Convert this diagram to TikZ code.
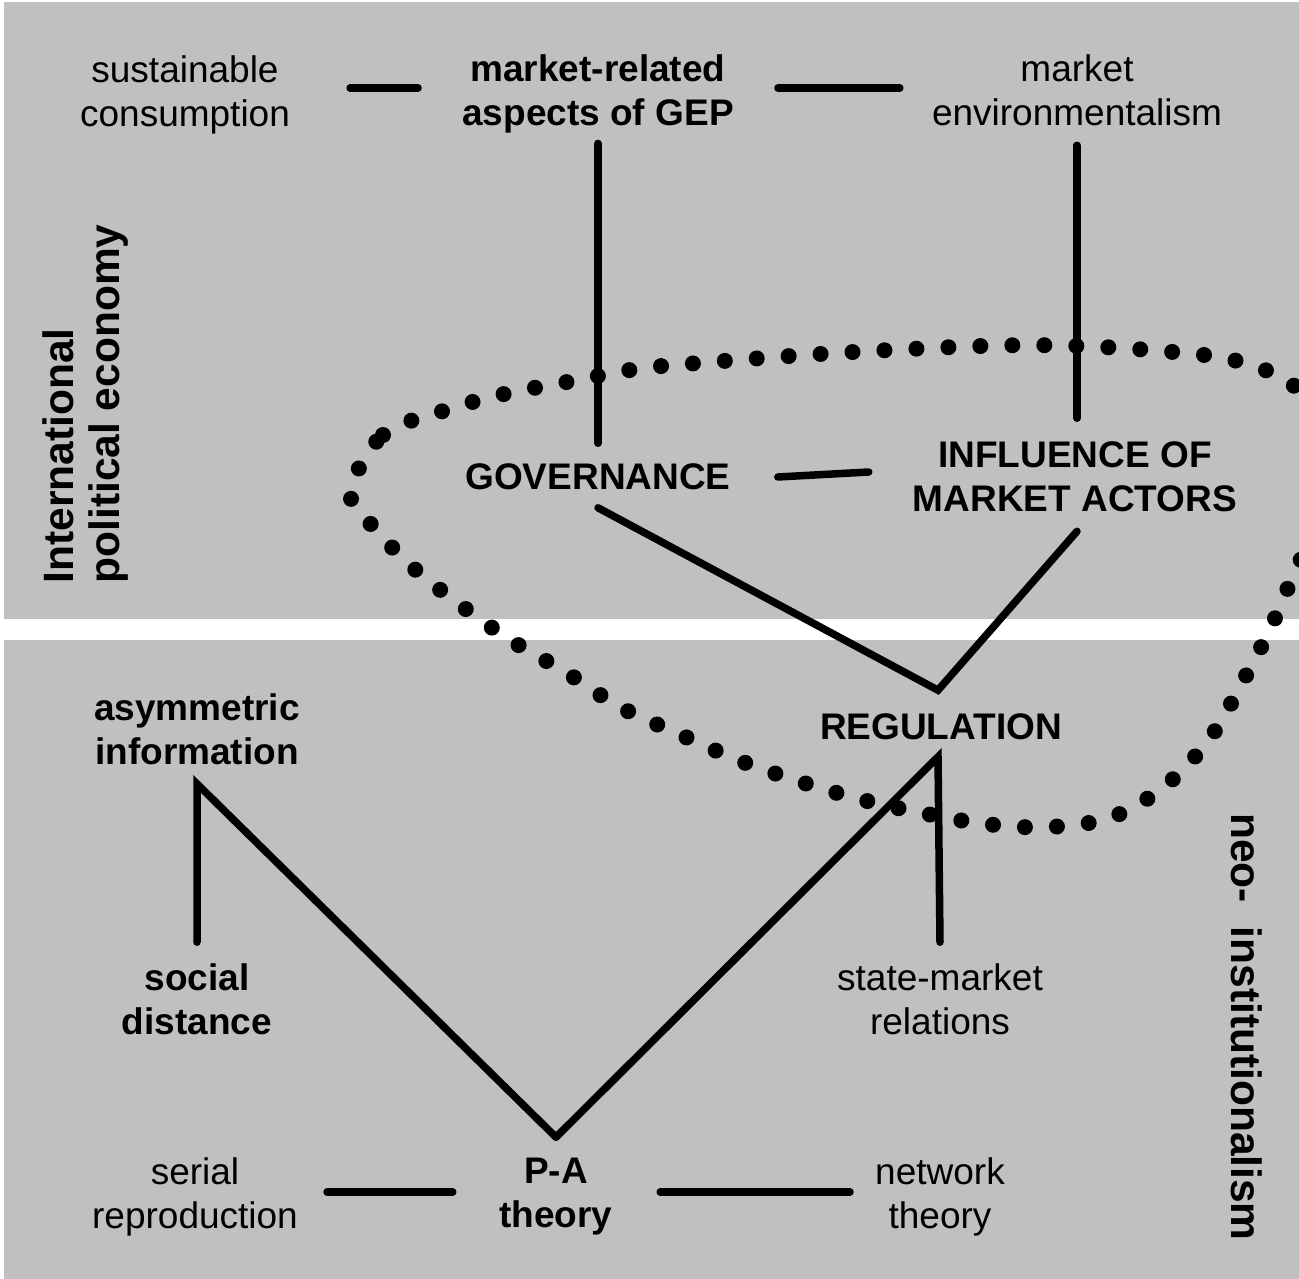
\documentclass[tikz,border=0pt]{standalone}
\usepackage{fontspec}
\setmainfont{Liberation Sans}
\definecolor{panel}{HTML}{C0C0C0}
\tikzset{
  lbl/.style={font=\fontsize{37}{44}\selectfont, align=center, inner sep=0pt},
  blbl/.style={font=\fontsize{37}{44}\selectfont\bfseries, align=center, inner sep=0pt},
  side/.style={font=\fontsize{42.5}{46}\selectfont\bfseries, align=left, inner sep=0pt},
  conn/.style={line width=7.5pt, line cap=round, line join=miter},
  dotring/.style={line width=16pt, line cap=round, dash pattern=on 0pt off 32pt},
}
\begin{document}
\begin{tikzpicture}[x=1pt,y=-1pt]
\useasboundingbox (0,0) rectangle (1299,1279);
\clip (0,0) rectangle (1299,1279);
\fill[panel] (4,2) rectangle (1299,619);
\fill[panel] (4,640) rectangle (1299,1279);

% labels
\node[lbl]  (sus)  at (185,95)   {sustainable\\consumption};
\node[blbl] (gep)  at (598,94)   {market-related\\aspects of GEP};
\node[lbl]  (menv) at (1077,90)  {market\\environmentalism};
\node[blbl] (gov)  at (598,477)  {GOVERNANCE};
\node[blbl] (infl) at (1075,477) {INFLUENCE OF\\MARKET ACTORS};
\node[blbl] (reg)  at (941,727)  {REGULATION};
\node[blbl] (asym) at (197,729)  {asymmetric\\information};
\node[blbl] (soc)  at (197,999)  {social\\distance};
\node[lbl]  (smr)  at (940,999)  {state-market\\relations};
\node[lbl]  (ser)  at (195,1197) {serial\\reproduction};
\node[blbl] (pa)   at (556,1197) {P-A\\theory};
\node[lbl]  (net)  at (940,1197) {network\\theory};
\node[side, rotate=90]  (ipe) at (86,404)   {International\\political economy};
\node[side, rotate=-90] (neo) at (1247,1027) {neo-\ \ institutionalism};

% dotted ring
\draw[dotring] plot[smooth cycle, tension=0.6] coordinates {
  (351,489) (383,435) (443,411) (504,394) (567,382) (630,370) (662,366)
  (820,354) (982,346) (1078,346) (1173,352) (1237,361) (1293,385)
  (1325,430) (1332,480) (1317,530) (1297,567) (1271,627) (1242,683)
  (1210,738) (1166,785) (1112,817) (1049,827) (986,824) (922,813)
  (859,799) (798,781) (738,760) (679,734) (620,707) (567,673)
  (512,641) (459,604) (409,564) (365,517)};

% connectors
\draw[conn] ([xshift=60pt,yshift=7pt]sus.east) -- ([xshift=-44pt,yshift=6pt]gep.west);
\draw[conn] ([xshift=44pt,yshift=6pt]gep.east) -- ([xshift=-32pt,yshift=2pt]menv.west);
\draw[conn] ([yshift=-10pt]gep.south) -- ([yshift=20.5pt]gov.north);
\draw[conn] ([yshift=-19.5pt]menv.south) -- ([xshift=2pt,yshift=23.5pt]infl.north);
\draw[conn] ([xshift=47pt]gov.east) -- ([xshift=-44pt,yshift=5pt]infl.west);
\draw[conn] ([yshift=-17.5pt]gov.south) -- ([xshift=-3pt,yshift=23.5pt]reg.north)
  -- ([xshift=2pt,yshift=-19pt]infl.south);
\draw[conn] ([yshift=21pt]pa.north) -- ([xshift=-3pt,yshift=-16.5pt]reg.south)
  -- ([yshift=21pt]smr.north);
\draw[conn] ([yshift=21pt]soc.north) -- ([yshift=-19pt]asym.south)
  -- ([yshift=21pt]pa.north);
\draw[conn] ([xshift=29pt,yshift=5pt]ser.east) -- ([xshift=-46.5pt,yshift=5pt]pa.west);
\draw[conn] ([xshift=47.5pt,yshift=5pt]pa.east) -- ([xshift=-25pt,yshift=5pt]net.west);
\end{tikzpicture}
\end{document}
